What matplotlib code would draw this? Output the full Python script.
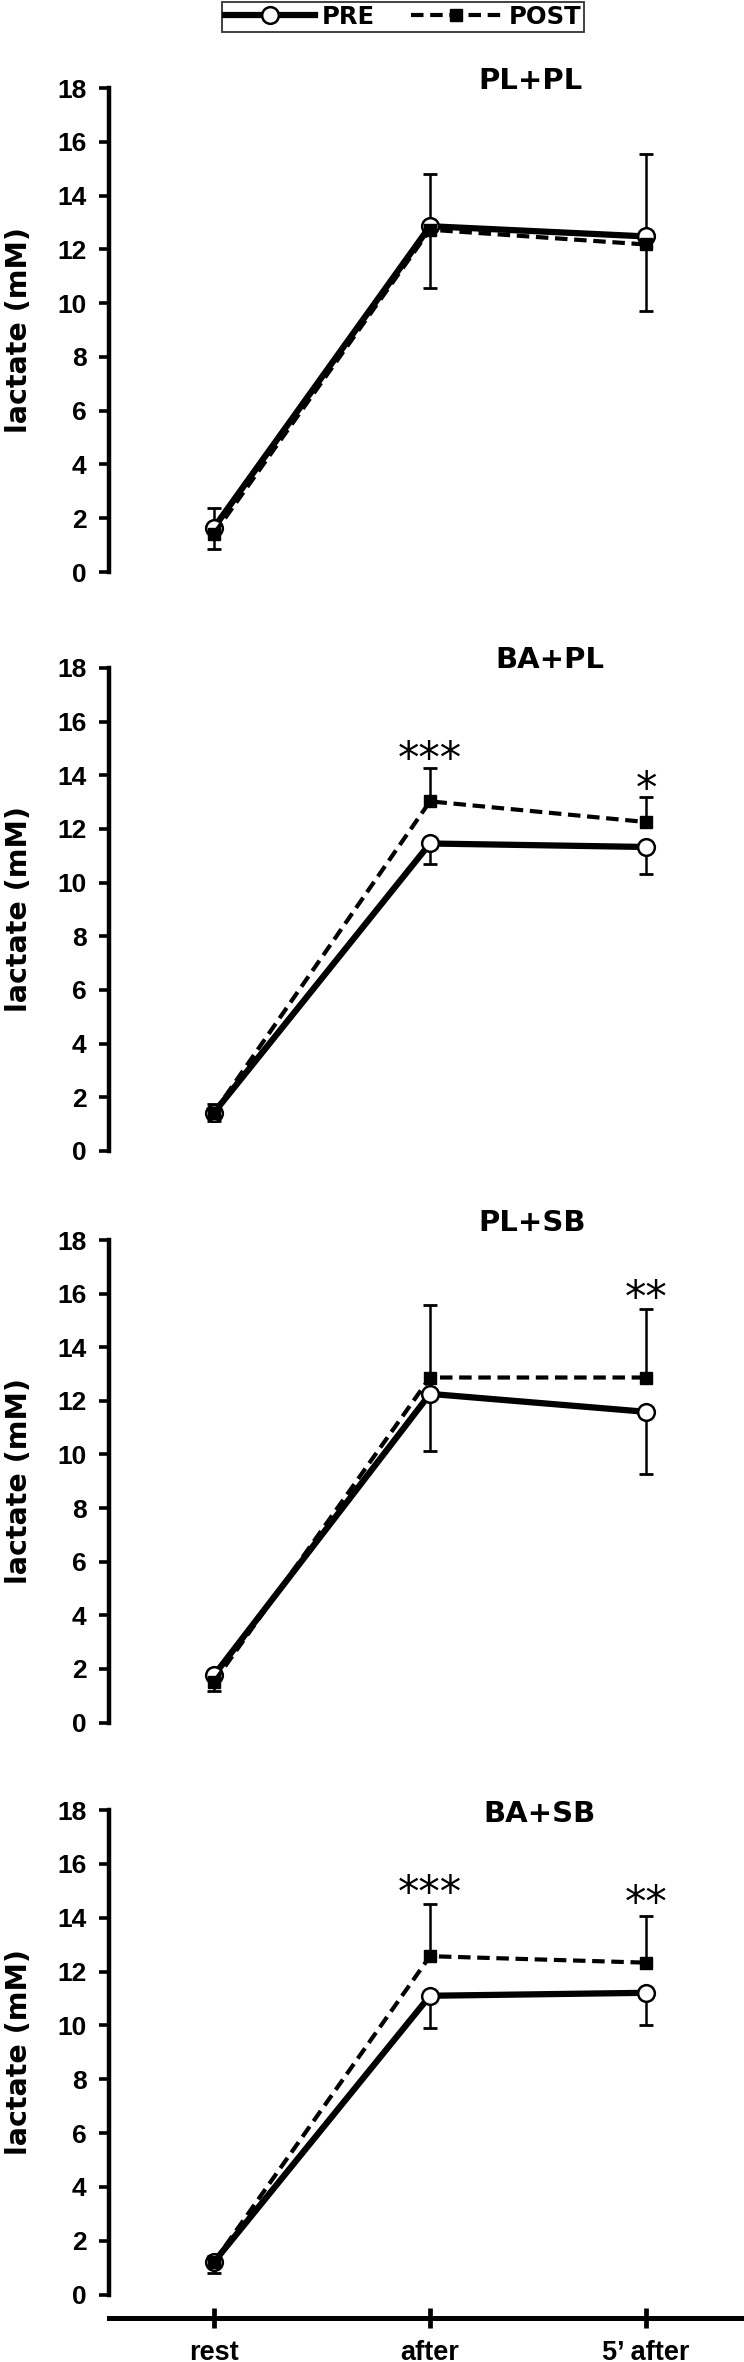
import numpy as np
import matplotlib
matplotlib.use("Agg")
import matplotlib.pyplot as plt

# ---------------- data ----------------
categories = ["rest", "after", "5\u2019 after"]
panel_titles = ["PL+PL", "BA+PL", "PL+SB", "BA+SB"]
series_names = ["PRE", "POST"]

pre_mean = [[1.65, 12.86, 12.48],
            [1.43, 11.46, 11.33],
            [1.76, 12.26, 11.59],
            [1.21, 11.10, 11.21]]
pre_err_low = [[0.80, 2.29, 2.76],
               [0.33, 0.77, 1.02],
               [0.57, 2.15, 2.33],
               [0.42, 1.20, 1.21]]
post_mean = [[1.42, 12.73, 12.18],
             [1.43, 13.03, 12.26],
             [1.51, 12.87, 12.87],
             [1.21, 12.57, 12.33]]
post_err_up = [[0.97, 2.07, 3.36],
               [0.33, 1.23, 0.93],
               [0.40, 2.70, 2.56],
               [0.22, 1.93, 1.74]]

# significance marks: panel index, category index, text, level (mM)
sig_panel = [1, 1, 2, 3, 3]
sig_cat = [1, 2, 2, 1, 2]
sig_text = ["***", "*", "**", "***", "**"]
sig_level = [15.07, 13.93, 16.29, 15.36, 15.00]

y_ticks = [0, 2, 4, 6, 8, 10, 12, 14, 16, 18]
y_label = "lactate (mM)"

# ---------------- layout ----------------
W, H = 744, 2362
left_px, right_px = 109, 743
top_px = [88, 668, 1240, 1810]
zero_px = [572, 1151, 1722.5, 2294.6]
xaxis_px = 2317.5
xlim = (-0.486, 2.449)
title_x = [1.465, 1.556, 1.472, 1.505]
title_y = [18.26, 18.30, 18.63, 17.85]

plt.rcParams["font.family"] = ["Liberation Sans", "DejaVu Sans"]
plt.rcParams["font.weight"] = "bold"

fig = plt.figure(figsize=(W / 100, H / 100), dpi=100)

lab_font = ["DejaVu Sans"]
handles = None
for i in range(4):
    ppu = (zero_px[i] - top_px[i]) / 18.0
    if i == 3:
        ymin = -(xaxis_px - zero_px[i]) / ppu
        bottom_px = xaxis_px
    else:
        ymin = 0.0
        bottom_px = zero_px[i]
    ax = fig.add_axes([left_px / W, 1 - bottom_px / H,
                       (right_px - left_px) / W, (bottom_px - top_px[i]) / H])
    ax.set_xlim(*xlim)
    ax.set_ylim(ymin, 18)
    x = np.arange(len(categories))

    pm = np.array(pre_mean[i]); pe = np.array(pre_err_low[i])
    qm = np.array(post_mean[i]); qe = np.array(post_err_up[i])

    # one-sided error bars: PRE downward, POST upward
    ax.errorbar(x, pm, yerr=[pe, np.zeros_like(pe)], fmt="none", ecolor="black",
                elinewidth=1.8, capsize=0, zorder=1)
    ax.errorbar(x, qm, yerr=[np.zeros_like(qe), qe], fmt="none", ecolor="black",
                elinewidth=1.8, capsize=0, zorder=1)
    ax.plot(x, pm - pe, ls="none", marker="_", ms=10, mew=2.0, color="black", zorder=1)
    ax.plot(x, qm + qe, ls="none", marker="_", ms=10, mew=2.0, color="black", zorder=1)

    l_pre, = ax.plot(x, pm, color="black", lw=4.5, marker="o", ms=12,
                     mfc="white", mec="black", mew=1.8, zorder=2, label=series_names[0])
    l_post, = ax.plot(x, qm, color="black", lw=3.0, dashes=(3.0, 1.6), marker="s",
                      ms=8, mfc="black", mec="black", zorder=3, label=series_names[1])
    if handles is None:
        handles = [l_pre, l_post]

    # spines and ticks
    for s in ["top", "right"]:
        ax.spines[s].set_visible(False)
    ax.spines["left"].set_linewidth(3.2)
    ax.spines["left"].set_bounds(0, 18)
    ax.set_yticks(y_ticks)
    ax.tick_params(axis="y", direction="out", length=7.2, width=2.6, pad=9,
                   labelsize=19)
    if i < 3:
        ax.spines["bottom"].set_visible(False)
        ax.set_xticks([])
    else:
        ax.spines["bottom"].set_linewidth(3.6)
        ax.set_xticks(x)
        ax.set_xticklabels(categories)
        ax.tick_params(axis="x", direction="inout", length=14, width=3.4, pad=9,
                       labelsize=19.5)
    for lbl in ax.get_yticklabels() + ax.get_xticklabels():
        lbl.set_fontweight("bold")

    ax.set_ylabel(y_label, family=lab_font, fontsize=20.5, fontweight="bold")
    ax.yaxis.label.set_verticalalignment("center")
    ax.yaxis.set_label_coords((19 - left_px) / (right_px - left_px),
                              (9 - ymin) / (18 - ymin))

    ax.text(title_x[i], title_y[i], panel_titles[i], family=lab_font, fontsize=21,
            fontweight="bold", ha="center", va="center")

    for p, c, t, lv in zip(sig_panel, sig_cat, sig_text, sig_level):
        if p == i:
            ax.text(c, lv - 0.94, t, family=["DejaVu Sans"], fontsize=31,
                    fontweight="normal", ha="center", va="baseline")

leg = fig.legend(handles=handles, labels=series_names, loc="center",
                 bbox_to_anchor=(403 / W, 1 - 17 / H), ncol=2,
                 prop={"family": "DejaVu Sans", "weight": "bold", "size": 17.5},
                 frameon=True, fancybox=False, edgecolor="black", borderpad=0.12,
                 handlelength=3.7, handletextpad=0.3, columnspacing=1.5,
                 borderaxespad=0)
leg.get_frame().set_linewidth(1.3)

fig.savefig("out.png", dpi=100)
